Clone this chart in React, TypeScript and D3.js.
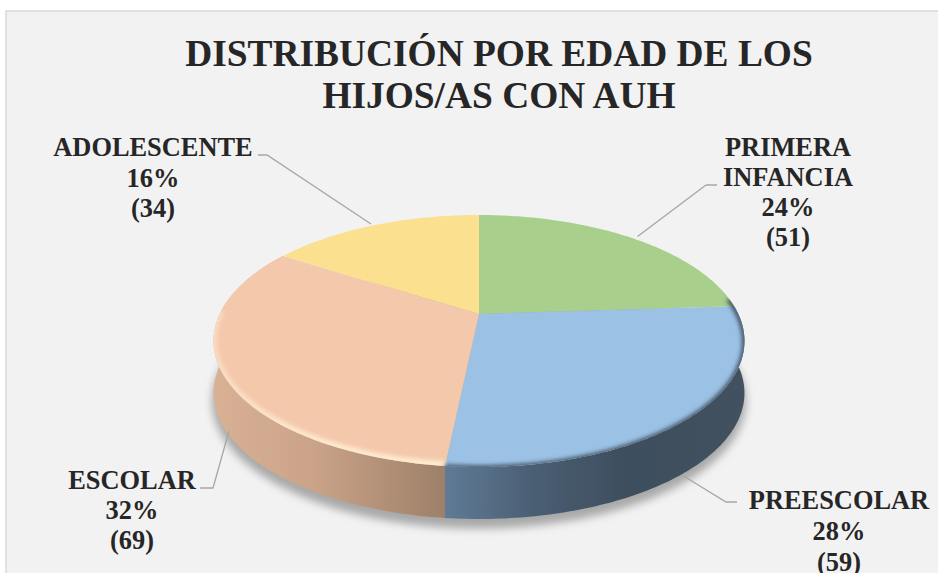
import React from "react";
import * as d3 from "d3";

const categories = ["PRIMERA INFANCIA", "PREESCOLAR", "ESCOLAR", "ADOLESCENTE"];
const counts = [51, 59, 69, 34];
const percents = ["24%", "28%", "32%", "16%"];
const sliceColors = ["#a9cf8c", "#9bc1e4", "#f4c8ab", "#fbe08f"];
const titleLines = ["DISTRIBUCIÓN POR EDAD DE LOS", "HIJOS/AS CON AUH"];

const W = 938, H = 573;
const CX = 479, APEX_Y = 314, DEPTH = 52;
const K = -0.2143;
const xScale = d3.scaleLinear().domain([-1, 1]).range([CX - 259.3, CX + 259.3]);
const yScale = d3.scaleLinear().domain([-1, 1]).range([APEX_Y - 120.2, APEX_Y + 120.2]);

function rim(theta: number, dy = 0): [number, number] {
  const u = Math.sin(theta), v = -Math.cos(theta), w = 1 + K * v;
  return [xScale(u / w), yScale(v / w) + dy];
}
function arcPts(a0: number, a1: number, dy = 0): [number, number][] {
  const n = Math.max(8, Math.ceil(Math.abs(a1 - a0) * 60));
  return d3.range(n + 1).map((i) => rim(a0 + ((a1 - a0) * i) / n, dy));
}
const line = d3.line<[number, number]>();
const pieGen = d3.pie<number>().sort(null).value((d) => d);
const arcs = pieGen(counts);
const TAU = Math.PI * 2;
const fullRim = line(arcPts(0, TAU))! + "Z";
const apex: [number, number] = [CX, APEX_Y];

const labelLayout = [
  { x: 788, ys: [155.5, 186, 216, 245.5], lines: ["PRIMERA", "INFANCIA", percents[0], `(${counts[0]})`] },
  { x: 839, ys: [509, 540, 570.5], lines: [categories[1], percents[1], `(${counts[1]})`] },
  { x: 132, ys: [489, 519, 549], lines: [categories[2], percents[2], `(${counts[2]})`] },
  { x: 153, ys: [155.5, 187, 216.5], lines: [categories[3], percents[3], `(${counts[3]})`] },
];
const leaders = [
  "M706,185H717M637.5,236.5L706,185",
  "M682,475L726,502H737",
  "M229,431L213,488H200",
  "M371,224L267,155H258",
];

export default function App() {
  const blue = arcs[1], peach = arcs[2];
  return (
    <svg width={W} height={H} style={{ position: "absolute", left: 0, top: 0 }} fontFamily="'Liberation Serif'">
      <defs>
        <filter id="sh" x="-10%" y="-15%" width="120%" height="130%"><feGaussianBlur stdDeviation="4.5" /></filter>
        <filter id="b1" x="-10%" y="-10%" width="120%" height="120%"><feGaussianBlur stdDeviation="2" /></filter>
        <linearGradient id="gPeach" gradientUnits="userSpaceOnUse" x1="213" x2="446" y1="0" y2="0">
          <stop offset="0" stopColor="#d9b195" />
          <stop offset="0.45" stopColor="#c9a288" />
          <stop offset="1" stopColor="#9d7f68" />
        </linearGradient>
        <linearGradient id="gBlue" gradientUnits="userSpaceOnUse" x1="446" x2="745" y1="0" y2="0">
          <stop offset="0" stopColor="#5f7a96" />
          <stop offset="0.3" stopColor="#4a5e72" />
          <stop offset="0.6" stopColor="#3d4e5e" />
          <stop offset="1" stopColor="#42515f" />
        </linearGradient>
        <linearGradient id="gHi" gradientUnits="userSpaceOnUse" x1="215" x2="446" y1="0" y2="0">
          <stop offset="0" stopColor="#ffeed8" stopOpacity="0.55" />
          <stop offset="0.35" stopColor="#ffeed6" stopOpacity="0.85" />
          <stop offset="1" stopColor="#fff0d2" stopOpacity="1" />
        </linearGradient>
        <clipPath id="face"><path d={fullRim} /></clipPath>
      </defs>
      <rect x={6} y={11} width={W} height={H} fill="#f2f2f2" stroke="#d9d9d9" strokeWidth={1.5} />
      <path d={line(arcPts(0, TAU, DEPTH + 8))! + "Z"} fill="#a8a8a8" stroke="#a8a8a8" strokeWidth={3} filter="url(#sh)" />

      {[{ a: peach, fill: "url(#gPeach)" }, { a: blue, fill: "url(#gBlue)" }].map(({ a, fill }, i) => (
        <path key={i} fill={fill}
          d={line([...arcPts(a.startAngle, a.endAngle), ...arcPts(a.endAngle, a.startAngle, DEPTH)])! + "Z"} />
      ))}

      {arcs.map((a, i) => (
        <path key={i} fill={sliceColors[i]} d={line([apex, ...arcPts(a.startAngle, a.endAngle)])! + "Z"} />
      ))}

      <g clipPath="url(#face)">
        <path d={line(arcPts(peach.startAngle, peach.endAngle - 0.55, -1))!} fill="none" stroke="url(#gHi)" strokeWidth={7} filter="url(#b1)" />
        <path d={line(arcPts(blue.startAngle - 0.07, blue.endAngle, 1))!} fill="none" stroke="#3d4e5e" strokeWidth={5} filter="url(#b1)" />
      </g>

      <g fill="none" stroke="#a6a6a6" strokeWidth={1.3}>
        {leaders.map((d, i) => <path key={i} d={d} />)}
      </g>

      <g fill="#262626" fontWeight="bold" textAnchor="middle">
        <g fontSize={37.4}>
          <text x={499} y={66}>{titleLines[0]}</text>
          <text x={499} y={108}>{titleLines[1]}</text>
        </g>
        <g fontSize={26.4}>
          {labelLayout.map((l, i) => l.lines.map((t, j) => (
            <text key={`${i}-${j}`} x={l.x} y={l.ys[j]}>{t}</text>
          )))}
        </g>
      </g>
    </svg>
  );
}
